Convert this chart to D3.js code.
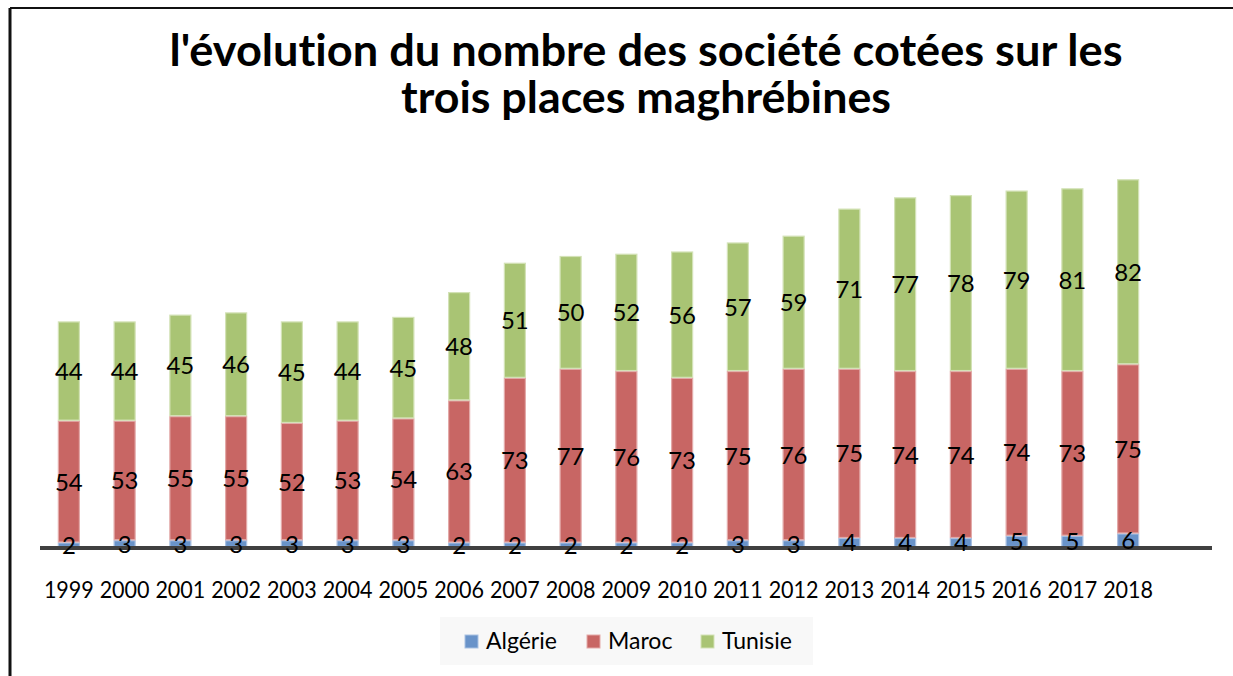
<!DOCTYPE html>
<html>
<head>
<meta charset="utf-8">
<script src="https://cdn.jsdelivr.net/npm/d3@7"></script>
<style>
  body { margin: 0; background: #fff; }
  text { font-family: Lato, "Open Sans", sans-serif; fill: #000; font-variant-ligatures: none; }
</style>
</head>
<body>
<div id="chart"></div>
<script>
var years = ["1999","2000","2001","2002","2003","2004","2005","2006","2007","2008",
             "2009","2010","2011","2012","2013","2014","2015","2016","2017","2018"];
var algerie = [2,3,3,3,3,3,3,2,2,2,2,2,3,3,4,4,4,5,5,6];
var maroc   = [54,53,55,55,52,53,54,63,73,77,76,73,75,76,75,74,74,74,73,75];
var tunisie = [44,44,45,46,45,44,45,48,51,50,52,56,57,59,71,77,78,79,81,82];
var seriesNames = ["Algérie", "Maroc", "Tunisie"];
var titleLines = ["l'évolution du nombre des société cotées sur les", "trois places maghrébines"];

var width = 1233,
    height = 676;

var colors = { "Algérie": "#6993c9", "Maroc": "#c86664", "Tunisie": "#a9c474" };
var edges  = { "Algérie": "#a9c1e2", "Maroc": "#e3a9a8", "Tunisie": "#d3e2b6" };

var svg = d3.select("#chart").append("svg")
    .attr("width", width)
    .attr("height", height);

// frame (top and left edges only visible)
svg.append("line").attr("x1", 10).attr("x2", width).attr("y1", 8).attr("y2", 8)
    .attr("stroke", "#111").attr("stroke-width", 2);
svg.append("line").attr("x1", 10).attr("x2", 10).attr("y1", 8).attr("y2", height)
    .attr("stroke", "#111").attr("stroke-width", 3);

// title
svg.selectAll(".title")
  .data(titleLines)
  .enter().append("text")
    .attr("class", "title")
    .attr("x", 646)
    .attr("y", function(d, i) { return 66 + i * 47; })
    .attr("text-anchor", "middle")
    .attr("textLength", function(d, i) { return i == 0 ? 953 : 490; })
    .attr("lengthAdjust", "spacingAndGlyphs")
    .style("font-size", "44px")
    .style("font-weight", "bold")
    .text(function(d) { return d; });

var rows = years.map(function(y, i) {
  return { year: y, "Algérie": algerie[i], "Maroc": maroc[i], "Tunisie": tunisie[i] };
});

var x = d3.scaleBand()
    .domain(years)
    .range([41, 1156])
    .paddingInner(0.605)
    .paddingOuter(0.3025);

var y = d3.scaleLinear()
    .domain([0, 163])
    .range([547, 179.3]);

var stacked = d3.stack().keys(seriesNames)(rows);

var layer = svg.selectAll(".layer")
  .data(stacked)
  .enter().append("g")
    .attr("class", "layer")
    .attr("fill", function(d) { return colors[d.key]; })
    .attr("stroke", function(d) { return edges[d.key]; });

layer.selectAll("rect")
  .data(function(d) { return d; })
  .enter().append("rect")
    .attr("x", function(d) { return x(d.data.year) + 0.5; })
    .attr("width", x.bandwidth() - 1)
    .attr("y", function(d) { return y(d[1]) + 0.5; })
    .attr("height", function(d) { return Math.max(0, y(d[0]) - y(d[1]) - 1); })
    .attr("stroke-width", 1.2);

// axis line
svg.append("line")
    .attr("x1", 40).attr("x2", 1212)
    .attr("y1", y(0) + 1).attr("y2", y(0) + 1)
    .attr("stroke", "#404040")
    .attr("stroke-width", 4);

// data labels
var labels = svg.append("g");
stacked.forEach(function(s) {
  labels.selectAll(null)
    .data(s)
    .enter().append("text")
      .attr("x", function(d) { return x(d.data.year) + x.bandwidth() / 2; })
      .attr("y", function(d) { return (y(d[0]) + y(d[1])) / 2 + 9; })
      .attr("text-anchor", "middle")
      .style("font-size", "24px")
      .text(function(d) { return d[1] - d[0]; });
});

// year labels
svg.append("g").selectAll("text")
  .data(years)
  .enter().append("text")
    .attr("x", function(d) { return x(d) + x.bandwidth() / 2; })
    .attr("y", 598)
    .attr("text-anchor", "middle")
    .attr("textLength", 50)
    .attr("lengthAdjust", "spacingAndGlyphs")
    .style("font-size", "24px")
    .text(function(d) { return d; });

// legend
var legend = svg.append("g");
legend.append("rect")
    .attr("x", 440).attr("y", 617)
    .attr("width", 373).attr("height", 48)
    .attr("fill", "#f8f8f8");

var legendX = [465, 587, 701];
var item = legend.selectAll(".item")
  .data(seriesNames)
  .enter().append("g")
    .attr("class", "item")
    .attr("transform", function(d, i) { return "translate(" + legendX[i] + ",635)"; });

item.append("rect")
    .attr("width", 13).attr("height", 13)
    .attr("fill", function(d) { return colors[d]; })
    .attr("stroke", function(d) { return edges[d]; })
    .attr("stroke-width", 1);

item.append("text")
    .attr("x", 21)
    .attr("y", 14)
    .style("font-size", "23px")
    .text(function(d) { return d; });
</script>
</body>
</html>
